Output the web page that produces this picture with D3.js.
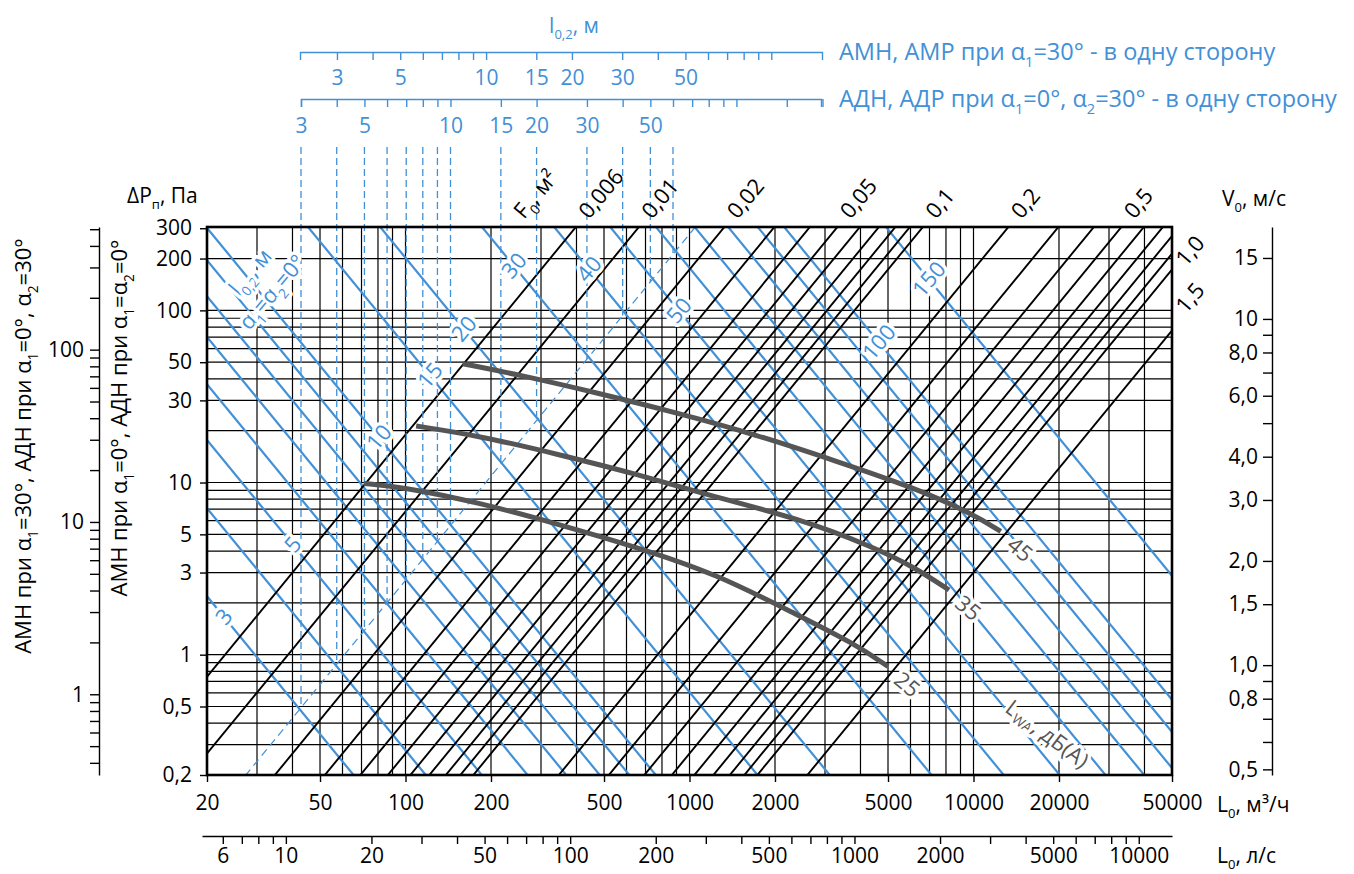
<!DOCTYPE html>
<html><head><meta charset="utf-8">
<script src="https://cdn.jsdelivr.net/npm/d3@7"></script>
<style>
body{margin:0;background:#fff}
svg{display:block}
text{font-family:"Open Sans",sans-serif}
</style>
</head><body>
<svg id="c" width="1354" height="874"></svg>
<script>
// ---------------- data ----------------
const flowTicks = [20,50,100,200,500,1000,2000,5000,10000,20000,50000];
const flowGrid = [20,30,40,50,60,70,80,90,100,200,300,400,500,600,700,800,900,1000,2000,3000,4000,5000,6000,7000,8000,9000,10000,20000,30000,40000,50000];
const flowLsTicks = [6,10,20,50,100,200,500,1000,2000,5000,10000];
const flowLsMinor = [7,8,9,30,40,60,70,80,90,300,400,600,700,800,900,3000,4000,6000,7000,8000,9000];
const pressureTicks = [300,200,100,50,30,10,5,3,1,0.5,0.2];
const pressureGrid = [200,100,90,80,70,60,50,40,30,20,10,9,8,7,6,5,4,3,2,1,0.9,0.8,0.7,0.6,0.5,0.4,0.3];
const outerTicks = [500,400,300,200,100,90,80,70,60,50,40,30,20,10,9,8,7,6,5,4,3,2,1,0.9,0.8,0.7,0.6,0.5,0.4];
const outerLabels = [100,10,1];
const velocityTicks = [15,10,8,6,4,3,2,1.5,1,0.8,0.5];
const velocityLabels = ["15","10","8,0","6,0","4,0","3,0","2,0","1,5","1,0","0,8","0,5"];
const velocityMinor = [9,7,5,0.9,0.7,0.6];
const areaValues = [0.006,0.01,0.02,0.03,0.04,0.05,0.06,0.07,0.08,0.09,0.1,0.2,0.3,0.4,0.5,0.6,0.7,0.8,0.9,1.0,1.5];
const areaTopLabels = [0.006,0.01,0.02,0.05,0.1,0.2,0.5];
const areaSideLabels = [1.0,1.5];
const areaDashed = 0.0158;
const throwValues = [3,4,5,6,7,8,9,10,15,20,30,40,50,60,70,80,90,100,150];
const throwLabelValues = [3,5,10,15,20,30,40,50,100,150];
const throwAxisTopTicks = [3,4,5,6,7,8,9,10,15,20,30,40,50,60,70,80,90,100];
const throwAxisBottomTicks = [3,4,5,6,7,8,9,10,15,20,30,40,50,60,70,80,90,100,150,200];
const throwAxisLabels = [3,5,10,15,20,30,50];
const throwDashed = [3,4,5,6,7,8,9,10,15,20,30,40,50,60];
const noise45 = [[159,49],[250,42.3],[475,33.1],[902,25.4],[1710,19.0],[3250,13.4],[6160,9.36],[9960,6.56],[12480,5.2]];
const noise35 = [[109,21.3],[181,18.7],[344,14.6],[653,11.2],[1240,8.19],[2350,6.28],[4470,4.21],[6160,3.23],[8200,2.375]];
const noise25 = [[71.4,9.87],[95.6,9.48],[181,7.66],[344,5.74],[653,4.21],[1240,2.95],[2350,1.73],[3810,1.16],[5000,0.853]];
const noiseLevels = [45,35,25];

// ---------------- setup ----------------
const BLUE = "#4290d6", GRAY = "#555555", FS = 21;
const svg = d3.select("#c");
const P = {l:207, r:1172, t:227, b:775};
const x = d3.scaleLog().domain([20,50000]).range([P.l,P.r]);
const xLs = d3.scaleLog().domain([5.07,13090]).range([202,P.r]);
const yP = d3.scaleLog().domain([0.2,305]).range([P.b,P.t]);
const yV = d3.scaleLog().domain([0.4816,18.43]).range([P.b,P.t]);
const yOuter = d3.scaleLog().domain([0.34,515]).range([P.b,P.t]);
const tTop = d3.scaleLog().domain([2.226,150.6]).range([300,822]);
const tBot = d3.scaleLog().domain([3,197.6]).range([301,821]);
const C_THROW = 3.38, P_THROW = 2.035;   // V*L = C * l^p
const throwK = l => C_THROW*Math.pow(l,P_THROW);
const comma = v => String(v).replace(".",",");
const areaFmt = v => v>=1 ? v.toFixed(1).replace(".",",") : comma(v);

function rich(sel, parts, size){
  const sh = size*0.3; let down=false;
  parts.forEach(p=>{
    if(typeof p==="string"){ const t=sel.append("tspan").text(p); if(down){t.attr("dy",-sh);down=false;} }
    else { const t=sel.append("tspan").text(p.sub).attr("font-size",size*0.62); if(!down){t.attr("dy",sh);down=true;} }
  });
  return sel;
}
function halo(sel){ return sel.attr("stroke","#fff").attr("stroke-width",7).attr("stroke-linejoin","round").attr("paint-order","stroke"); }

svg.append("rect").attr("width",1354).attr("height",874).attr("fill","#fff");
svg.append("clipPath").attr("id","clip").append("rect").attr("x",P.l).attr("y",P.t).attr("width",P.r-P.l).attr("height",P.b-P.t);

// grid
const grid = svg.append("g").attr("stroke","#000").attr("stroke-width",1.2);
grid.selectAll(".vx").data(flowGrid).join("line").attr("x1",d=>x(d)).attr("x2",d=>x(d)).attr("y1",P.t).attr("y2",P.b);
grid.selectAll(".hp").data(pressureGrid).join("line").attr("x1",P.l).attr("x2",P.r).attr("y1",d=>yP(d)).attr("y2",d=>yP(d));

const clipG = svg.append("g").attr("clip-path","url(#clip)");
const Lmin = 10, Lmax = 100000;
// blue throw lines
clipG.append("g").selectAll("line").data(throwValues).join("line")
  .attr("stroke",BLUE).attr("stroke-width",2.2)
  .attr("x1",x(Lmin)).attr("x2",x(Lmax))
  .attr("y1",d=>yV(throwK(d)/Lmin)).attr("y2",d=>yV(throwK(d)/Lmax));
// dashed diagonal
clipG.append("line").attr("stroke",BLUE).attr("stroke-width",1.2).attr("stroke-dasharray","8,5")
  .attr("x1",x(Lmin)).attr("x2",x(Lmax))
  .attr("y1",yV(Lmin/(3600*areaDashed))).attr("y2",yV(Lmax/(3600*areaDashed)));
// dashed verticals
svg.append("g").selectAll("line").data(throwDashed).join("line")
  .attr("stroke",BLUE).attr("stroke-width",1.3).attr("stroke-dasharray","7,4")
  .attr("x1",d=>tBot(d)).attr("x2",d=>tBot(d)).attr("y1",147)
  .attr("y2",d=>yV(x.invert(tBot(d))/(3600*areaDashed)));
// black area lines
clipG.append("g").selectAll("line").data(areaValues).join("line")
  .attr("stroke","#000").attr("stroke-width",1.9)
  .attr("x1",x(Lmin)).attr("x2",x(Lmax))
  .attr("y1",d=>yV(Lmin/(3600*d))).attr("y2",d=>yV(Lmax/(3600*d)));
// noise curves
const line = d3.line().x(d=>x(d[0])).y(d=>yP(d[1])).curve(d3.curveBasis);
const curves = [noise45,noise35,noise25];
svg.append("g").selectAll("path").data(curves).join("path")
  .attr("d",line).attr("fill","none").attr("stroke",GRAY).attr("stroke-width",5);

// labels for throw lines
const blueLblX = {3:223,5:292,10:378,15:429,20:463,30:513,40:588,50:678,100:878,150:928};
const lbl = svg.append("g");
throwLabelValues.forEach(v=>{
  const px = blueLblX[v], py = yV(throwK(v)/x.invert(px));
  halo(lbl.append("text").attr("transform",`translate(${px},${py}) rotate(-50)`)
    .attr("text-anchor","middle").attr("dominant-baseline","central")
    .attr("fill",BLUE).attr("font-size",22).text(v));
});
halo(rich(lbl.append("text").attr("transform","translate(256,277) rotate(-50)").attr("text-anchor","middle")
  .attr("fill",BLUE).attr("font-size",22),["l",{sub:"0,2"},", м"],22));
halo(rich(lbl.append("text").attr("transform","translate(278,297) rotate(-50)").attr("text-anchor","middle")
  .attr("fill",BLUE).attr("font-size",22),["α",{sub:"1"},"=α",{sub:"2"},"=0°"],22));
// noise labels
noiseLevels.forEach((lv,i)=>{
  const e = curves[i][curves[i].length-1];
  halo(lbl.append("text").attr("transform",`translate(${x(e[0])+20},${yP(e[1])+17}) rotate(40)`)
    .attr("text-anchor","middle").attr("dominant-baseline","central").attr("fill",GRAY).attr("font-size",22).text(lv));
});
halo(rich(lbl.append("text").attr("transform","translate(1048,733) rotate(37)").attr("text-anchor","middle")
  .attr("dominant-baseline","central").attr("fill",GRAY).attr("font-size",22),["L",{sub:"WA"},", дБ(А)"],22));

// area labels
areaTopLabels.forEach(v=>{
  const px = x(3600*v*yV.domain()[1]);
  svg.append("text").attr("transform",`translate(${px+13},${P.t-7}) rotate(-50)`).attr("font-size",22).text(areaFmt(v));
});
rich(svg.append("text").attr("transform",`translate(524,${P.t-7}) rotate(-50)`).attr("font-size",22),["F",{sub:"0"},", м²"],22);
const sideOff = {1:-2, 1.5:-16};
areaSideLabels.forEach(v=>{
  const py = yV(x.domain()[1]/(3600*v));
  svg.append("text").attr("transform",`translate(${P.r+14},${py+sideOff[v]}) rotate(-50)`).attr("font-size",22).text(areaFmt(v));
});

// frame
svg.append("rect").attr("x",P.l).attr("y",P.t).attr("width",P.r-P.l).attr("height",P.b-P.t)
  .attr("fill","none").attr("stroke","#000").attr("stroke-width",2.6);

function styleAxis(g,color,fs){
  g.selectAll("text").attr("font-size",fs).attr("fill",color).attr("font-family","Open Sans");
  g.selectAll("line").attr("stroke",color).attr("stroke-width",1.4);
  g.select(".domain").attr("stroke",color).attr("stroke-width",1.4);
}
// bottom m3/h axis
const ax1 = svg.append("g").attr("transform",`translate(0,${P.b})`)
  .call(d3.axisBottom(x).tickValues(flowTicks).tickSize(7).tickPadding(13).tickFormat(d3.format("d")));
ax1.select(".domain").remove(); styleAxis(ax1,"#000",FS);
// l/s axis
const ax2 = svg.append("g").attr("transform","translate(0,836)")
  .call(d3.axisBottom(xLs).tickValues(flowLsTicks.concat(flowLsMinor)).tickSize(8).tickSizeOuter(0).tickPadding(4)
    .tickFormat(d=>flowLsTicks.includes(d)?d3.format("d")(d):""));
styleAxis(ax2,"#000",FS);
// left pressure axis
const ax3 = svg.append("g").attr("transform",`translate(${P.l},0)`)
  .call(d3.axisLeft(yP).tickValues(pressureTicks).tickSize(7).tickPadding(8).tickFormat(comma));
ax3.select(".domain").remove(); styleAxis(ax3,"#000",FS);
// outer axis
const ax4 = svg.append("g").attr("transform","translate(99,0)")
  .call(d3.axisLeft(yOuter).tickValues(outerTicks).tickSize(9).tickSizeOuter(0).tickPadding(6)
    .tickFormat(d=>outerLabels.includes(d)?String(d):""));
styleAxis(ax4,"#000",FS);
// right velocity axis
const ax5 = svg.append("g").attr("transform","translate(1272,0)")
  .call(d3.axisLeft(yV).tickValues(velocityTicks.concat(velocityMinor)).tickSize(9).tickSizeOuter(0).tickPadding(5)
    .tickFormat(d=>{const i=velocityTicks.indexOf(d);return i>=0?velocityLabels[i]:"";}));
styleAxis(ax5,"#000",FS);
// top throw axes
const ax6 = svg.append("g").attr("transform","translate(0,52)")
  .call(d3.axisBottom(tTop).tickValues(throwAxisTopTicks).tickSize(8).tickSizeOuter(8).tickPadding(10)
    .tickFormat(d=>throwAxisLabels.includes(d)?String(d):""));
styleAxis(ax6,BLUE,FS);
const ax7 = svg.append("g").attr("transform","translate(0,99)")
  .call(d3.axisBottom(tBot).tickValues(throwAxisBottomTicks).tickSize(8).tickSizeOuter(8).tickPadding(11)
    .tickFormat(d=>throwAxisLabels.includes(d)?String(d):""));
styleAxis(ax7,BLUE,FS);

// titles
const LFS = 23.5;
rich(svg.append("text").attr("x",574).attr("y",33).attr("text-anchor","middle").attr("fill",BLUE).attr("font-size",FS),["l",{sub:"0,2"},", м"],FS);
rich(svg.append("text").attr("x",839).attr("y",60).attr("fill",BLUE).attr("font-size",LFS),["АМН, АМР при α",{sub:"1"},"=30° - в одну сторону"],LFS);
rich(svg.append("text").attr("x",839).attr("y",107).attr("fill",BLUE).attr("font-size",LFS),["АДН, АДР при α",{sub:"1"},"=0°, α",{sub:"2"},"=30° - в одну сторону"],LFS);
rich(svg.append("text").attr("x",127).attr("y",203).attr("font-size",FS),["ΔP",{sub:"п"},", Па"],FS);
rich(svg.append("text").attr("x",1222).attr("y",206).attr("font-size",FS),["V",{sub:"0"},", м/с"],FS);
rich(svg.append("text").attr("x",1217).attr("y",812).attr("font-size",FS),["L",{sub:"0"},", м³/ч"],FS);
rich(svg.append("text").attr("x",1217).attr("y",863).attr("font-size",FS),["L",{sub:"0"},", л/с"],FS);
rich(svg.append("text").attr("transform","translate(31,446) rotate(-90)").attr("text-anchor","middle").attr("font-size",22),
  ["АМН при α",{sub:"1"},"=30°, АДН при α",{sub:"1"},"=0°, α",{sub:"2"},"=30°"],22);
rich(svg.append("text").attr("transform","translate(127,418) rotate(-90)").attr("text-anchor","middle").attr("font-size",22),
  ["АМН при α",{sub:"1"},"=0°, АДН при α",{sub:"1"},"=α",{sub:"2"},"=0°"],22);
</script>
</body></html>
